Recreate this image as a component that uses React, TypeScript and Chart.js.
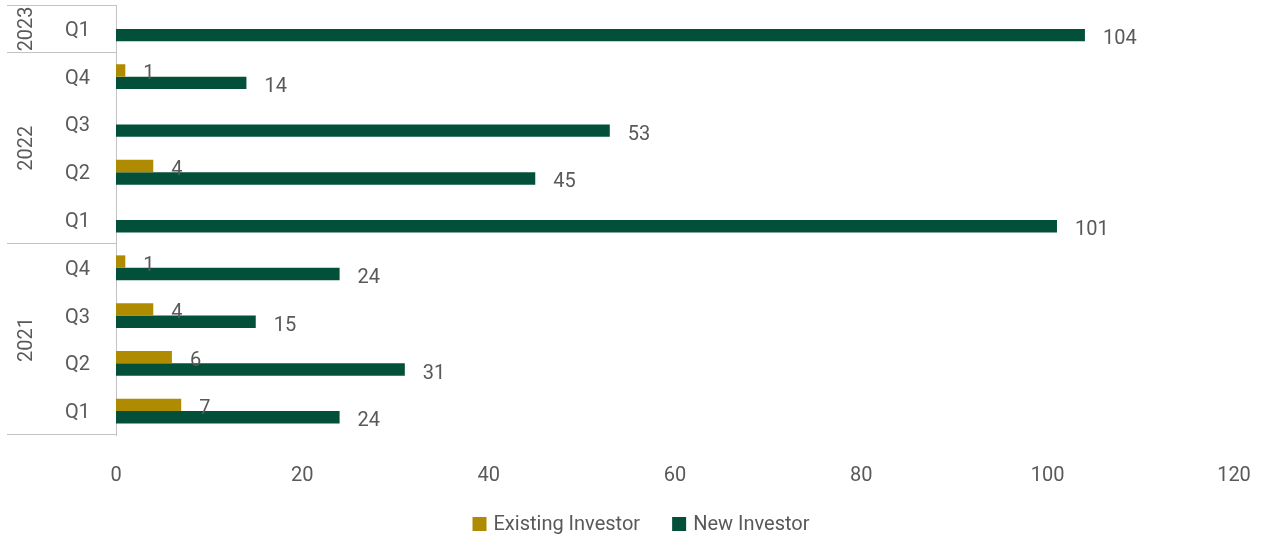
import React, { useEffect, useRef } from "react";
import { Chart, registerables } from "chart.js";

Chart.register(...registerables);

// Categories listed top to bottom
const quarters = ["Q1", "Q4", "Q3", "Q2", "Q1", "Q4", "Q3", "Q2", "Q1"];
const years = ["2023", "2022", "2022", "2022", "2022", "2021", "2021", "2021", "2021"];
const existingInvestor: (number | null)[] = [null, 1, null, 4, null, 1, 4, 6, 7];
const newInvestor: number[] = [104, 14, 53, 45, 101, 24, 15, 31, 24];
const seriesNames = ["Existing Investor", "New Investor"];
const xMin = 0;
const xMax = 120;
const xStep = 20;

const GOLD = "#AE8B00";
const GREEN = "#03503A";
const TEXT = "#595959";
const LINE = "#C3C3C3";
const FONT = "Roboto";
const FS = 20;

const dataLabelPlugin = {
  id: "dataLabels",
  afterDatasetsDraw(chart: any) {
    const ctx = chart.ctx;
    ctx.save();
    ctx.font = `${FS}px ${FONT}`;
    ctx.fillStyle = TEXT;
    ctx.textAlign = "left";
    ctx.textBaseline = "middle";
    chart.data.datasets.forEach((ds: any, di: number) => {
      const meta = chart.getDatasetMeta(di);
      meta.data.forEach((bar: any, i: number) => {
        const v = ds.data[i];
        if (v === null || v === undefined) return;
        const { x, y } = bar.getProps(["x", "y"], true);
        ctx.fillText(String(v), x + 18, y + 4);
      });
    });
    ctx.restore();
  },
};

const groupAxisPlugin = {
  id: "groupAxis",
  afterDraw(chart: any) {
    const ctx = chart.ctx;
    const ys = chart.scales.y;
    const left = chart.chartArea.left;
    const half = (ys.getPixelForValue(1) - ys.getPixelForValue(0)) / 2;
    const groups: { year: string; start: number; end: number }[] = [];
    years.forEach((yr, i) => {
      const g = groups[groups.length - 1];
      if (g && g.year === yr) g.end = i;
      else groups.push({ year: yr, start: i, end: i });
    });
    ctx.save();
    ctx.strokeStyle = LINE;
    ctx.lineWidth = 1;
    groups.forEach((g, gi) => {
      const top = ys.getPixelForValue(g.start) - half;
      const bottom = ys.getPixelForValue(g.end) + half;
      ctx.beginPath();
      if (gi === 0) {
        ctx.moveTo(7, Math.round(top) + 0.5);
        ctx.lineTo(left, Math.round(top) + 0.5);
      }
      ctx.moveTo(7, Math.round(bottom) - 0.5);
      ctx.lineTo(left, Math.round(bottom) - 0.5);
      ctx.stroke();
      ctx.save();
      ctx.translate(26, (top + bottom) / 2);
      ctx.rotate(-Math.PI / 2);
      ctx.font = `${FS}px ${FONT}`;
      ctx.fillStyle = TEXT;
      ctx.textAlign = "center";
      ctx.textBaseline = "middle";
      ctx.fillText(g.year, 0, 1);
      ctx.restore();
    });
    ctx.restore();

    // legend
    ctx.save();
    ctx.font = `${FS}px ${FONT}`;
    ctx.textBaseline = "middle";
    ctx.textAlign = "left";
    const box = 14;
    const gapBoxText = 7;
    const gapItems = 32;
    const items = chart.data.datasets.map((ds: any) => ({
      label: ds.label,
      color: ds.backgroundColor,
      w: ctx.measureText(ds.label).width,
    }));
    let total = 0;
    items.forEach((it: any, i: number) => {
      total += box + gapBoxText + it.w + (i < items.length - 1 ? gapItems : 0);
    });
    let x = 641 - total / 2;
    const cy = 524;
    items.forEach((it: any) => {
      ctx.fillStyle = it.color;
      ctx.fillRect(x, cy - box / 2, box, box);
      ctx.fillStyle = TEXT;
      ctx.fillText(it.label, x + box + gapBoxText, cy + 1);
      x += box + gapBoxText + it.w + gapItems;
    });
    ctx.restore();
  },
};

export default function App() {
  const ref = useRef<HTMLCanvasElement>(null);
  useEffect(() => {
    if (!ref.current) return;
    const chart = new Chart(ref.current, {
      type: "bar",
      data: {
        labels: quarters,
        datasets: [
          {
            label: seriesNames[0],
            data: existingInvestor,
            backgroundColor: GOLD,
            categoryPercentage: 0.52,
            barPercentage: 1,
          },
          {
            label: seriesNames[1],
            data: newInvestor,
            backgroundColor: GREEN,
            categoryPercentage: 0.52,
            barPercentage: 1,
          },
        ],
      } as any,
      options: {
        indexAxis: "y",
        responsive: false,
        animation: false,
        layout: { padding: { top: 5, right: 34, left: 0, bottom: 0 } },
        plugins: { legend: { display: false }, tooltip: { enabled: false } },
        scales: {
          x: {
            min: xMin,
            max: xMax,
            ticks: {
              stepSize: xStep,
              color: TEXT,
              font: { family: FONT, size: FS },
              padding: 29,
            },
            grid: { display: false, drawTicks: false },
            border: { display: false },
            afterFit: (s: any) => {
              s.height = 106;
              s.paddingLeft = 0;
              s.paddingRight = 0;
            },
          },
          y: {
            ticks: {
              color: TEXT,
              font: { family: FONT, size: FS },
              padding: 26,
              labelOffset: 2,
            },
            grid: { display: false, drawTicks: false },
            border: { display: true, color: LINE, width: 1 },
            afterFit: (s: any) => {
              s.width = 116;
              s.paddingTop = 0;
              s.paddingBottom = 0;
            },
          },
        },
      } as any,
      plugins: [dataLabelPlugin, groupAxisPlugin],
    });
    return () => chart.destroy();
  }, []);
  return (
    <div style={{ position: "absolute", left: 0, top: 0, width: 1268, height: 541 }}>
      <canvas ref={ref} width={1268} height={541} />
    </div>
  );
}
